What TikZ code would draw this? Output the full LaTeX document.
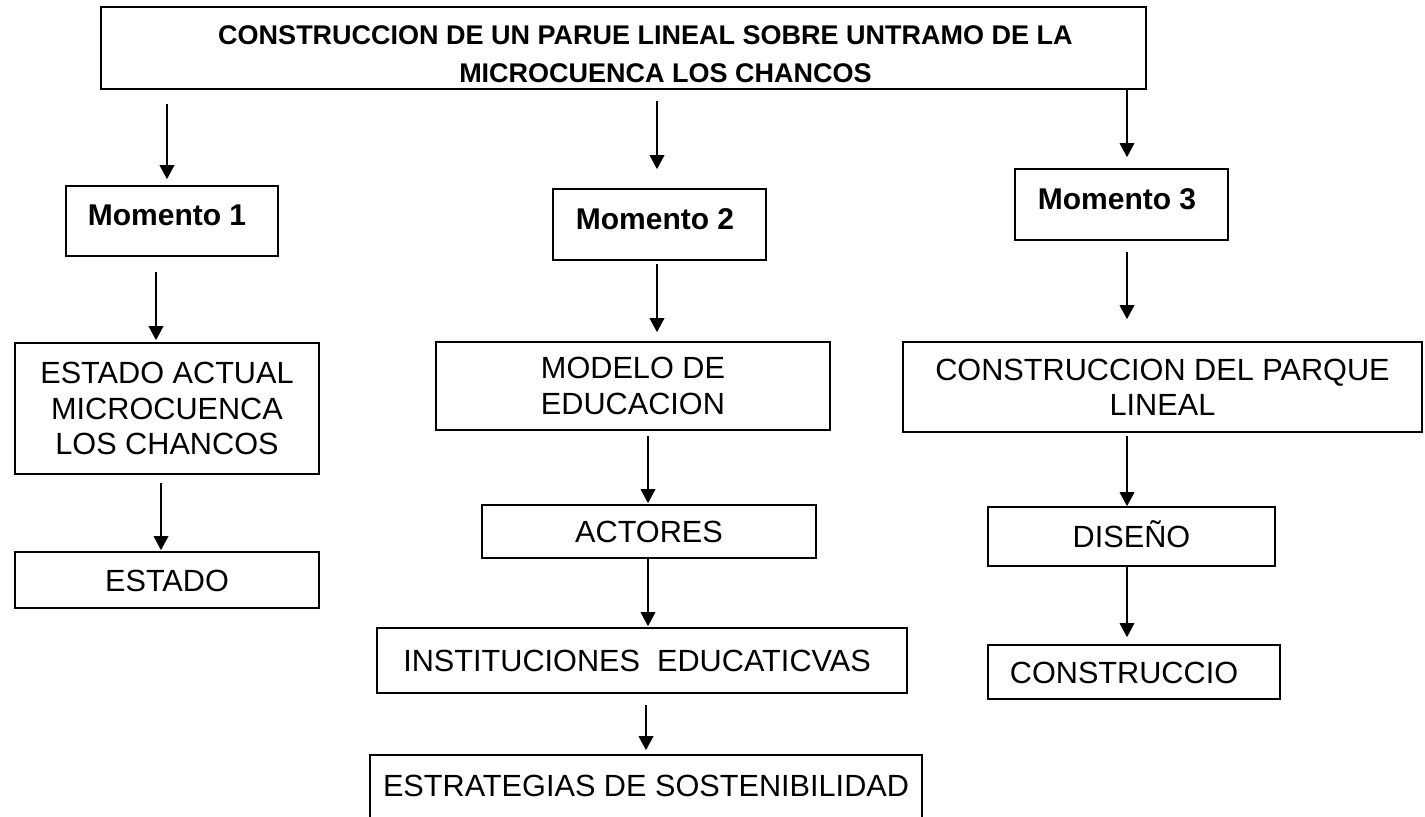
\documentclass[tikz,border=0pt]{standalone}
\usepackage{fontspec}
\setmainfont{Liberation Sans}
\usetikzlibrary{arrows.meta}
\newdimen\px \px=0.75pt

\begin{document}
\begin{tikzpicture}[x=0.75pt,y=-0.75pt]
\tikzstyle{caja}=[rectangle,draw,line width=1.25pt,inner sep=0pt,align=center,font=\fontsize{23pt}{26.5pt}\selectfont]
\tikzstyle{una}=[caja,text height=16.5pt,text depth=0pt]
\tikzstyle{momento}=[caja,font=\fontsize{22.5pt}{27pt}\selectfont\bfseries,text height=16.1pt,text depth=9pt]
\tikzstyle{flecha}=[line width=1pt,-{Triangle[length=10.5pt,width=11pt]}]
\useasboundingbox (0,0) rectangle (1425,817);
% titulo
\node (titulo) [caja,minimum width=1045\px,minimum height=82\px,font=\fontsize{20.25pt}{28.5pt}\selectfont\bfseries,text height=52.5pt,text depth=0pt] at (623.5,48) {\hspace*{44\px}CONSTRUCCION DE UN PARUE LINEAL SOBRE UNTRAMO DE LA\\\hspace*{84\px}MICROCUENCA LOS CHANCOS};
% momentos
\node (m1) [momento,minimum width=212\px,minimum height=70\px] at (172,221) {Momento 1\hspace*{10\px}};
\node (m2) [momento,minimum width=213\px,minimum height=71\px] at (659.5,224.5) {Momento 2\hspace*{9\px}};
\node (m3) [momento,minimum width=213\px,minimum height=71\px] at (1121.5,204.5) {Momento 3\hspace*{9\px}};
% columna 1
\node (actual) [caja,minimum width=304\px,minimum height=131\px] at (167,408.5) {ESTADO ACTUAL\\MICROCUENCA\\LOS CHANCOS};
\node (estado) [una,minimum width=304\px,minimum height=56\px] at (167,580) {ESTADO};
% columna 2
\node (modelo) [caja,minimum width=394\px,minimum height=88\px] at (633,386) {MODELO DE\\EDUCACION};
\node (actores) [una,minimum width=334\px,minimum height=53\px] at (649,531.5) {ACTORES};
\node (inst) [una,minimum width=530\px,minimum height=65\px] at (642,660.5) {INSTITUCIONES~~EDUCATICVAS\hspace*{10\px}};
\node (estrat) [una,minimum width=552\px,minimum height=76\px,text depth=12pt] at (646,793) {ESTRATEGIAS DE SOSTENIBILIDAD};
% columna 3
\node (parque) [caja,minimum width=519\px,minimum height=90\px] at (1162.5,387) {CONSTRUCCION DEL PARQUE\\LINEAL};
\node (diseno) [una,minimum width=287\px,minimum height=59\px] at (1131.5,536.5) {DISEÑO};
\node (constr) [una,minimum width=292\px,minimum height=54\px] at (1134,672) {CONSTRUCCIO\hspace*{20\px}};
% flechas
\draw[flecha,shorten <=14\px,shorten >=6\px] (titulo.south -| 167,0) -- (m1.north -| 167,0);
\draw[flecha,shorten <=11\px,shorten >=19\px] (titulo.south -| 657,0) -- (m2.north -| 657,0);
\draw[flecha,shorten >=11\px] (titulo.south -| 1127,0) -- (m3.north -| 1127,0);
\draw[flecha,shorten <=15\px,shorten >=2\px] (m1.south -| 156,0) -- (actual.north -| 156,0);
\draw[flecha,shorten <=8\px,shorten >=1\px] (actual.south -| 161,0) -- (estado.north -| 161,0);
\draw[flecha,shorten <=3\px,shorten >=9\px] (m2.south -| 657,0) -- (modelo.north -| 657,0);
\draw[flecha,shorten <=5\px,shorten >=1\px] (modelo.south -| 648,0) -- (actores.north -| 648,0);
\draw[flecha,shorten >=1\px] (actores.south -| 648,0) -- (inst.north -| 648,0);
\draw[flecha,shorten <=11\px,shorten >=4\px] (inst.south -| 646,0) -- (estrat.north -| 646,0);
\draw[flecha,shorten <=11\px,shorten >=22\px] (m3.south -| 1127,0) -- (parque.north -| 1127,0);
\draw[flecha,shorten <=3\px] (parque.south -| 1127,0) -- (diseno.north -| 1127,0);
\draw[flecha,shorten >=7\px] (diseno.south -| 1127,0) -- (constr.north -| 1127,0);
\end{tikzpicture}
\end{document}
